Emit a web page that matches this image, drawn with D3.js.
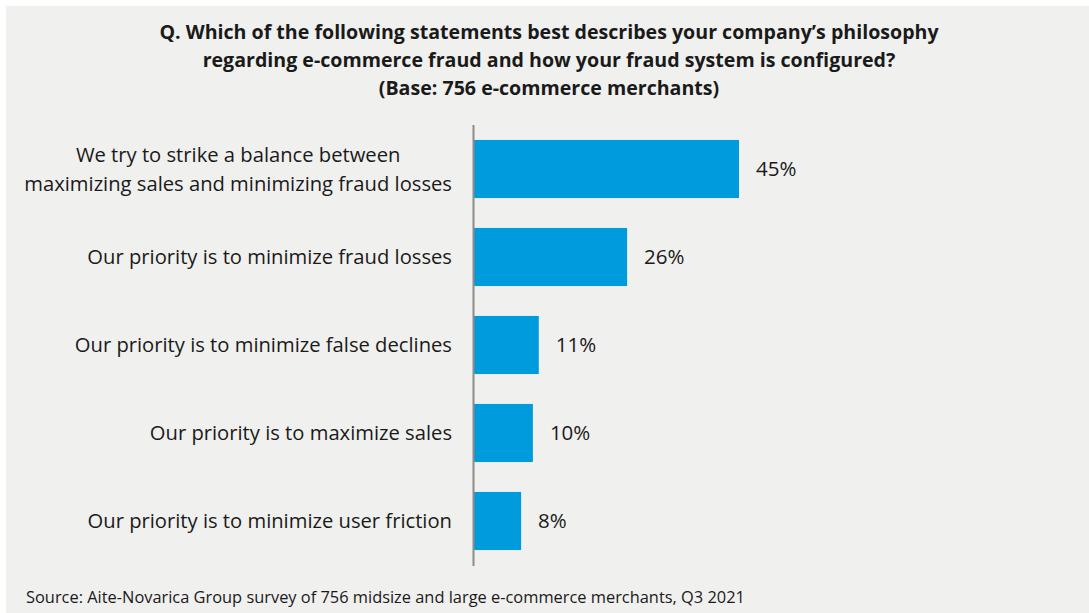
<!DOCTYPE html>
<html>
<head>
<meta charset="utf-8">
<script src="https://cdn.jsdelivr.net/npm/d3@7"></script>
<style>
  html, body { margin: 0; padding: 0; background: #ffffff; }
  svg { display: block; }
</style>
</head>
<body>
<svg id="chart" width="1089" height="613"></svg>
<script>
// Survey responses (percent of merchants)
const categories = [
  ["We try to strike a balance between", "maximizing sales and minimizing fraud losses"],
  ["Our priority is to minimize fraud losses"],
  ["Our priority is to minimize false declines"],
  ["Our priority is to maximize sales"],
  ["Our priority is to minimize user friction"]
];
const values = [45, 26, 11, 10, 8];
const valueLabels = ["45%", "26%", "11%", "10%", "8%"];
const titleLines = [
  "Q. Which of the following statements best describes your company\u2019s philosophy",
  "regarding e-commerce fraud and how your fraud system is configured?",
  "(Base: 756 e-commerce merchants)"
];
const sourceText = "Source: Aite-Novarica Group survey of 756 midsize and large e-commerce merchants, Q3 2021";

const svg = d3.select("#chart");
const W = 1089, H = 613;
const font = "'Open Sans', sans-serif";

// panel background
svg.append("rect").attr("x", 6).attr("y", 6).attr("width", W - 6).attr("height", H - 6)
  .attr("fill", "#f0f0ee");

// title
svg.append("g").selectAll("text").data(titleLines).join("text")
  .attr("x", 549).attr("y", (d, i) => 39 + i * 28)
  .attr("text-anchor", "middle")
  .attr("font-family", font).attr("font-weight", 700).attr("font-size", 19.6)
  .attr("fill", "#1a1a1a")
  .text(d => d);

const x0 = 474;
const x = d3.scaleLinear().domain([0, 45]).range([x0, 739]);
const y = d3.scaleBand().domain(d3.range(values.length)).range([125, 565]).paddingInner(0.34).paddingOuter(0.17);

const g = svg.append("g");

g.selectAll("rect.bar").data(values).join("rect")
  .attr("class", "bar")
  .attr("x", x(0))
  .attr("y", (d, i) => y(i))
  .attr("width", d => x(d) - x(0))
  .attr("height", y.bandwidth())
  .attr("fill", "#009bdc");

// value labels
g.selectAll("text.val").data(values).join("text")
  .attr("class", "val")
  .attr("x", d => x(d) + 17)
  .attr("y", (d, i) => y(i) + y.bandwidth() / 2)
  .attr("dy", "0.35em")
  .attr("font-family", font).attr("font-size", 20.5)
  .attr("fill", "#1a1a1a")
  .text((d, i) => valueLabels[i]);

// category labels: block right-aligned to the axis gap, wrapped lines centred within it
const labelRight = 452;
g.selectAll("g.cat").data(categories).join("g")
  .attr("class", "cat")
  .each(function (lines, i) {
    const cy = y(i) + y.bandwidth() / 2;
    const lh = 29;
    const sel = d3.select(this).selectAll("text").data(lines).join("text")
      .attr("font-family", font).attr("font-size", 20.2)
      .attr("fill", "#1a1a1a")
      .attr("text-anchor", "middle")
      .attr("y", (d, j) => cy + (j - (lines.length - 1) / 2) * lh)
      .attr("dy", "0.35em")
      .text(d => d);
    const widths = sel.nodes().map(n => n.getComputedTextLength());
    const maxW = d3.max(widths);
    sel.attr("x", labelRight - maxW / 2);
  });

// axis line
svg.append("line")
  .attr("x1", x0 - 0.5).attr("x2", x0 - 0.5)
  .attr("y1", 125).attr("y2", 566)
  .attr("stroke", "#8c8c8c").attr("stroke-width", 2);

// source
svg.append("text")
  .attr("x", 26).attr("y", 603)
  .attr("font-family", font).attr("font-size", 16.4)
  .attr("fill", "#1a1a1a")
  .text(sourceText);
</script>
</body>
</html>
